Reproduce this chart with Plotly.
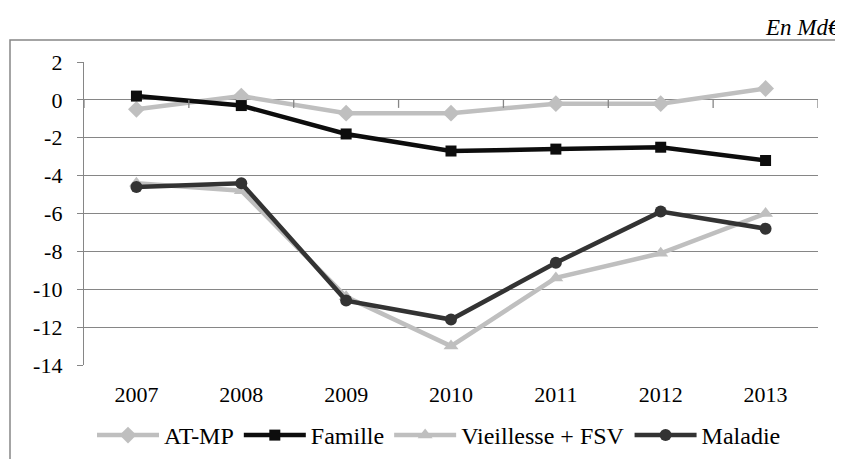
import plotly.graph_objects as go

years = ["2007", "2008", "2009", "2010", "2011", "2012", "2013"]
at_mp = [-0.5, 0.2, -0.7, -0.7, -0.2, -0.2, 0.6]
famille = [0.2, -0.3, -1.8, -2.7, -2.6, -2.5, -3.2]
vieillesse = [-4.4, -4.8, -10.4, -13.0, -9.4, -8.1, -6.0]
maladie = [-4.6, -4.4, -10.6, -11.6, -8.6, -5.9, -6.8]
y_ticks = [2, 0, -2, -4, -6, -8, -10, -12, -14]

FONT = "'Liberation Serif', 'Times New Roman', serif"
GRID = "#868686"
OFF = 8  # page body margin offset
W, H = 843 - OFF, 459 - OFF

fig = go.Figure()
series = [
    ("AT-MP", at_mp, "#BFBFBF", "diamond", 13),
    ("Famille", famille, "#0D0D0D", "square", 11),
    ("Vieillesse + FSV", vieillesse, "#BFBFBF", "triangle-up", 13),
    ("Maladie", maladie, "#333333", "circle", 12),
]
for name, vals, col, sym, sz in series:
    fig.add_trace(go.Scatter(
        x=years, y=vals, name=name, mode="lines+markers",
        line=dict(color=col, width=4.5),
        marker=dict(symbol=sym, size=sz, color=col, line=dict(width=0)),
    ))

px_l, px_r, px_t, px_b = 84 - OFF, 818 - OFF, 62 - OFF, 365 - OFF
def px2x(p):
    return (p - OFF - px_l) / (px_r - px_l)
def py2y(p):
    return (px_b - (p - OFF)) / (px_b - px_t)

shapes = []
for k in range(len(years) + 1):
    shapes.append(dict(type="line", xref="x", yref="y", x0=k - 0.5, x1=k - 0.5,
                       ysizemode="pixel", yanchor=0, y0=0, y1=-8,
                       line=dict(color=GRID, width=1.3)))
shapes.append(dict(type="rect", xref="paper", yref="paper",
                   x0=px2x(10), x1=px2x(841), y0=py2y(480), y1=py2y(40),
                   line=dict(color="#868686", width=1.5), fillcolor="rgba(0,0,0,0)", layer="below"))

fig.update_layout(
    width=W, height=H,
    margin=dict(l=px_l, r=W - px_r, t=px_t, b=H - px_b, autoexpand=False),
    paper_bgcolor="white", plot_bgcolor="white",
    font=dict(family=FONT, size=22, color="black"),
    showlegend=True,
    legend=dict(orientation="h", x=px2x(439), xanchor="center", y=py2y(458), yanchor="bottom",
                font=dict(family=FONT, size=24, color="black"), itemwidth=62,
                tracegroupgap=0, bgcolor="rgba(0,0,0,0)"),
    shapes=shapes,
    annotations=[dict(text="<i>En Md€</i>", xref="paper", yref="paper",
                      x=px2x(843), y=py2y(27), xanchor="right", yanchor="middle",
                      showarrow=False, font=dict(family=FONT, size=23, color="black"))],
    xaxis=dict(type="category", showgrid=False, showline=False, zeroline=False,
               ticks="", tickfont=dict(family=FONT, size=22), ticklabelstandoff=14,
               automargin=False, range=[-0.5, len(years) - 0.5]),
    yaxis=dict(range=[-14, 2], tickvals=y_ticks, ticktext=[str(v) for v in y_ticks],
               showgrid=True, gridcolor=GRID, gridwidth=1.3, zeroline=False,
               showline=True, linecolor=GRID, linewidth=1.3, automargin=False,
               ticks="outside", ticklen=6, tickcolor=GRID, tickwidth=1.3,
               tickfont=dict(family=FONT, size=22), ticklabelstandoff=10),
)

fig.write_html("out.html")
